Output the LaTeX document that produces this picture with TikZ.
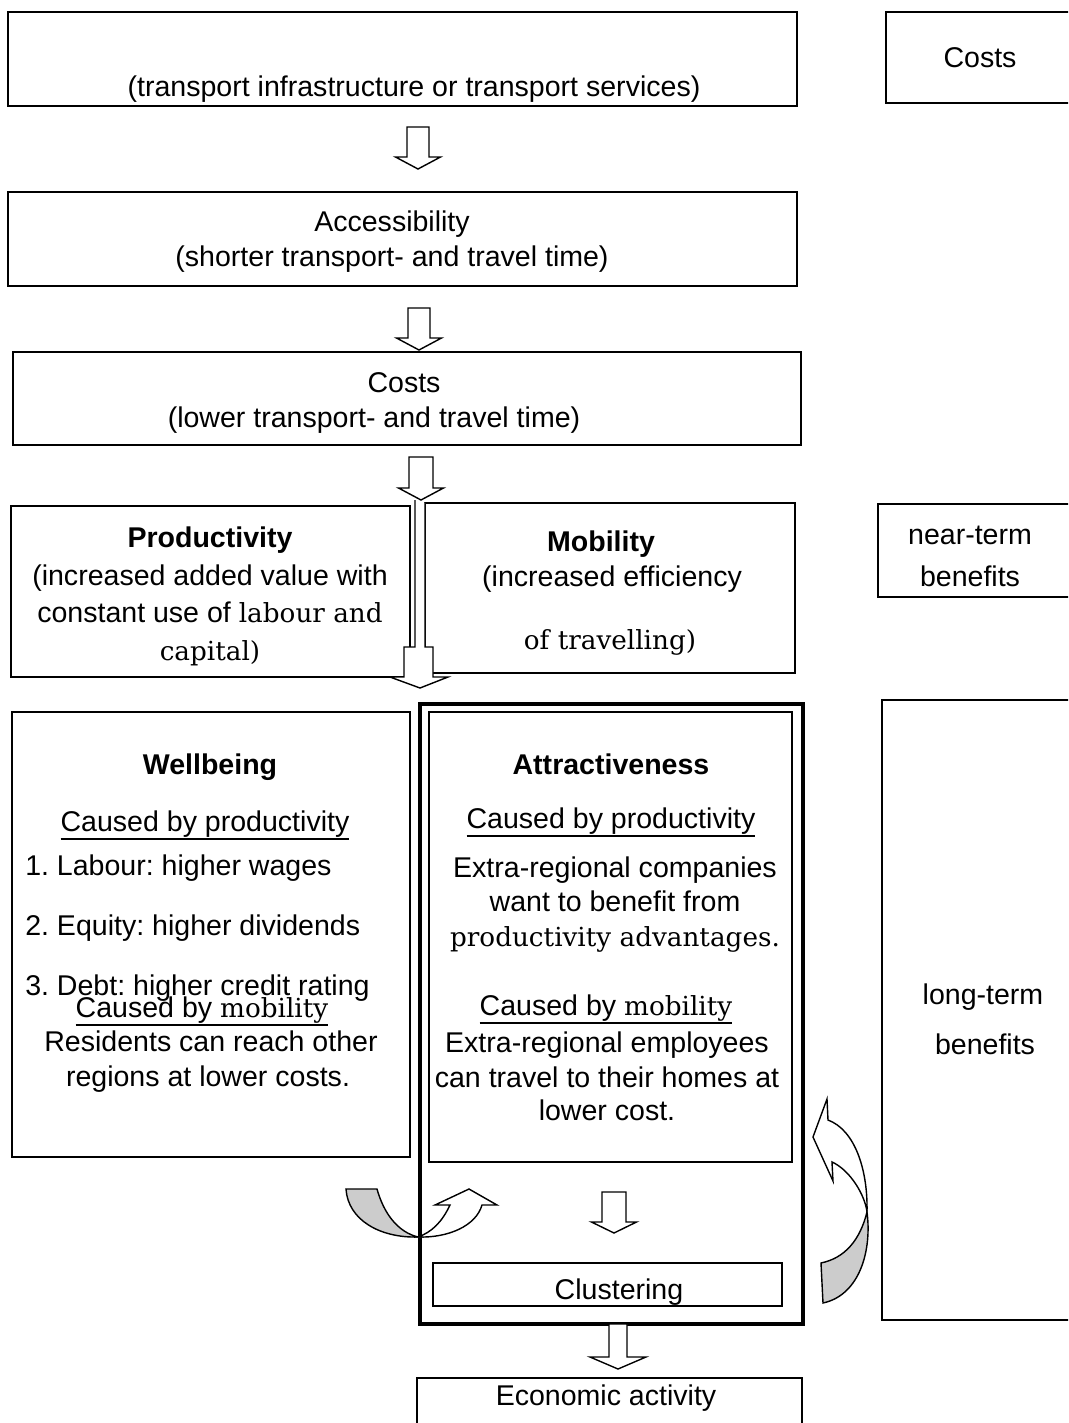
\documentclass[tikz,border=0pt]{standalone}
\usepackage{fontspec}
\setmainfont{Liberation Sans}
\newfontfamily\cambria[Scale=0.92]{DejaVu Serif}
\usetikzlibrary{fit}
\newsavebox{\ulbox}
\newcommand{\ulined}[1]{\sbox\ulbox{#1}\rlap{\rule[-6.3pt]{\wd\ulbox}{1.3pt}}\usebox\ulbox}
\frenchspacing
\tikzset{
  box/.style={draw,line width=1.3pt,inner sep=0pt},
  thick box/.style={draw,line width=2.4pt,inner sep=0pt},
  txt/.style={anchor=base,inner sep=0pt},
  block arrow/.style={draw,fill=white,line width=1pt,line join=miter},
  pics/down arrow/.style args={#1/#2/#3/#4}{code={
    \draw[block arrow] (-#1,0) -- (-#1,#2) -- (-#3,#2) -- (0,#2+#4) -- (#3,#2) -- (#1,#2) -- (#1,0) -- cycle;
  }}
}

\begin{document}
\begin{tikzpicture}[x=0.025cm,y=-0.025cm,font=\fontsize{20.3}{24.6}\selectfont]
  \useasboundingbox (0,0) rectangle (1068,1423);
  \clip (0,0) rectangle (1068,1423);
  % left column: investment down to costs
  \node[box,fit={(8,12) (797,106)}] (invest) {};
  \node[txt] (invest-t) at (414,96) {(transport infrastructure or transport services)};
  \node[box,fit={(886,12) (1080,103)}] (costsr) {};
  \node[txt] (costsr-t) at (980,67) {Costs};
  \pic at (418,127) {down arrow=11/30/22.5/12};

  \node[box,fit={(8,192) (797,286)}] (access) {};
  \node[txt] (access-t1) at (392,231) {Accessibility};
  \node[txt] (access-t2) at (392,266) {(shorter transport- and travel time)};
  \pic at (419,308) {down arrow=11/30/22.5/12};

  \node[box,fit={(13,352) (801,445)}] (costs) {};
  \node[txt] (costs-t1) at (404,392) {Costs};
  \node[txt] (costs-t2) at (374,427) {(lower transport- and travel time)};
  \pic at (421,457) {down arrow=12/31/22.5/12};

  % near-term effects
  \node[box,fit={(11,506) (410,677)}] (prod) {};
  \node[txt] (prod-t1) at (210,547) {\bfseries Productivity};
  \node[txt] (prod-t2) at (210,585) {(increased added value with};
  \node[txt] (prod-t3) at (210,622) {constant use of {\cambria labour and}};
  \node[txt] (prod-t4) at (210,660) {\cambria capital)};
  \node[box,fit={(425,503) (795,673)}] (mob) {};
  \node[txt] (mob-t1) at (601,551) {\bfseries Mobility};
  \node[txt] (mob-t2) at (612,586) {(increased efficiency};
  \node[txt] (mob-t3) at (610,649) {\cambria of travelling)};
  \node[box,fit={(878,504) (1080,597)}] (near) {};
  \node[txt] (near-t1) at (970,544) {near-term};
  \node[txt] (near-t2) at (970,586) {benefits};
  \draw[block arrow] (415,500) -- (415,647) -- (404,647) -- (404,677) -- (390,677) -- (420,688)
    -- (448,677) -- (433,677) -- (433,647) -- (425,647) -- (425,503);

  % long-term effects
  \node[box,fit={(12,712) (410,1157)}] (well) {};
  \node[txt] (well-t) at (210,774) {\bfseries Wellbeing};
  \node[txt] (well-p) at (205,831) {\ulined{Caused by productivity}};
  \foreach \i/\y/\t in {1/875/{1. Labour: higher wages},2/935/{2. Equity: higher dividends},3/995/{3. Debt: higher credit rating}}
    \node[txt,anchor=base west] (well-\i) at (25,\y) {\t};
  \node[txt] (well-m) at (202,1017) {\ulined{Caused by {\cambria mobility}}};
  \node[txt] (well-r1) at (211,1051) {Residents can reach other};
  \node[txt] (well-r2) at (208,1086) {regions at lower costs.};

  \node[thick box,fit={(420,704) (803,1324)}] (attrout) {};
  \node[box,fit={(429,712) (792,1162)}] (attr) {};
  \node[txt] (attr-t) at (611,774) {\bfseries Attractiveness};
  \node[txt] (attr-p) at (611,828) {\ulined{Caused by productivity}};
  \node[txt] (attr-p1) at (615,877) {Extra-regional companies};
  \node[txt] (attr-p2) at (615,911) {want to benefit from};
  \node[txt] (attr-p3) at (615,946) {\cambria productivity advantages.};
  \node[txt] (attr-m) at (606,1015) {\ulined{Caused by {\cambria mobility}}};
  \node[txt] (attr-m1) at (607,1052) {Extra-regional employees};
  \node[txt] (attr-m2) at (607,1087) {can travel to their homes at};
  \node[txt] (attr-m3) at (607,1120) {lower cost.};
  \pic at (614,1192) {down arrow=12/30/22.5/11};
  \node[box,fit={(433,1263) (782,1306)}] (clust) {};
  \node[txt] (clust-t) at (619,1299) {Clustering};

  \node[box,fit={(882,700) (1080,1320)}] (long) {};
  \node[txt] (long-t1) at (983,1004) {long-term};
  \node[txt] (long-t2) at (985,1054) {benefits};

  \begin{scope}[line width=1.6pt]
    \pic at (618,1324) {down arrow=9/33/28/12};
  \end{scope}
  \node[box,fit={(417,1378) (802,1430)}] (econ) {};
  \node[txt] (econ-t) at (606,1405) {Economic activity};

  % feedback arrows
  \draw[block arrow,fill=black!20] (346,1189) -- (377,1189) .. controls (384,1214) and (398,1232) .. (418,1237)
    .. controls (380,1238) and (348,1220) .. (346,1189) -- cycle;
  \draw[block arrow] (418,1237) .. controls (448,1238) and (476,1226) .. (482,1205) -- (497,1205) -- (469,1189)
    -- (435,1205) -- (450,1205) .. controls (442,1222) and (432,1232) .. (418,1237) -- cycle;
  \draw[block arrow,fill=black!20] (867,1212) .. controls (872,1250) and (860,1295) .. (823,1303) -- (821,1263)
    .. controls (845,1258) and (860,1240) .. (867,1212) -- cycle;
  \draw[block arrow] (867,1212) .. controls (868,1170) and (855,1130) .. (828,1120) -- (827,1099) -- (813,1137)
    -- (833,1181) -- (832,1162) .. controls (850,1170) and (865,1195) .. (867,1212) -- cycle;
\end{tikzpicture}
\end{document}
